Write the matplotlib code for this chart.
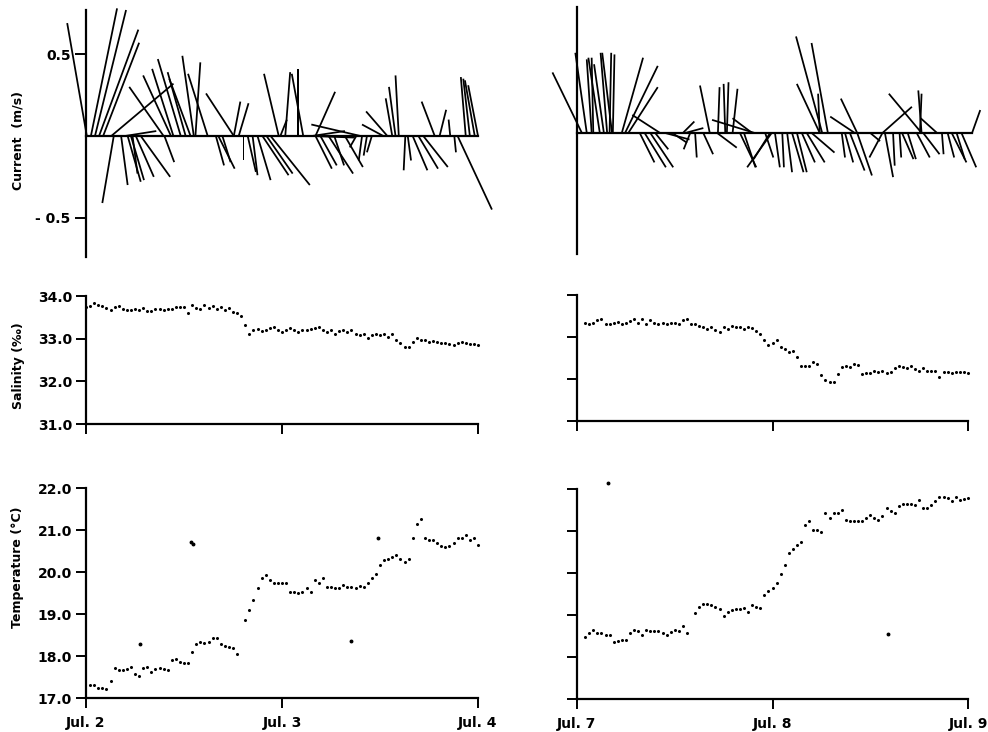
import numpy as np
import matplotlib
matplotlib.use("Agg")
import matplotlib.pyplot as plt
from matplotlib.ticker import FormatStrFormatter

plt.rcParams['font.family'] = ['DejaVu Sans']
plt.rcParams['font.weight'] = 'bold'
plt.rcParams['axes.linewidth'] = 1.6

# ---------------- data (hours after midnight of first day) ----------------
# current sticks, Jul 2 - Jul 4 : time, east comp, north comp (m/s)
cur_a_hr = [0.1, 0.6, 1.1, 1.6, 2.1, 3.1, 3.4, 4.3, 4.8, 5.1, 5.5, 5.7, 6.1, 6.7,
            9.5, 9.6, 10.4, 10.7, 11.6, 12.2, 12.8, 13.2, 13.4, 14.9, 15.9, 16.2,
            16.7, 18.1, 18.1, 18.7, 19.3, 19.8, 20.4, 21.0, 21.6, 22.1, 22.6, 23.6,
            23.8, 24.4, 26.0, 26.6, 27.5, 27.7, 28.1, 28.1, 28.7, 29.7, 30.4, 31.7,
            33.1, 33.6, 33.8, 34.4, 35.0, 36.4, 36.9, 37.5, 37.9, 38.3, 39.1, 39.4,
            40.0, 40.7, 41.3, 42.7, 43.3, 44.6, 45.1, 45.5, 46.5, 47.0, 47.6, 48.0]
cur_a_u = [-0.12, 0.16, 0.19, 0.24, 0.22, 0.38, -0.07, 0.04, 0.19, 0.08, 0.08, 0.03, 0.11, 0.18,
           -0.21, 0.06, -0.17, -0.13, -0.14, -0.11, -0.13, -0.07, 0.03, -0.12, 0.05, 0.10,
           0.05, -0.17, 0.04, 0.06, 0.00, 0.05, 0.03, 0.08, 0.16, 0.16, 0.24, -0.09,
           0.04, 0.03, 0.00, -0.07, 0.27, 0.20, 0.12, 0.10, 0.10, 0.15, 0.06, 0.11,
           -0.04, -0.30, -0.02, -0.02, -0.03, -0.13, -0.13, -0.04, -0.04, -0.02, -0.01, 0.02,
           0.09, 0.12, 0.15, -0.08, 0.04, -0.01, 0.01, 0.21, -0.03, -0.04, -0.06, -0.06]
cur_a_v = [0.69, 0.78, 0.77, 0.65, 0.57, 0.32, -0.41, -0.30, 0.03, -0.28, -0.27, -0.23, -0.25, -0.25,
           0.30, -0.16, 0.37, 0.41, 0.47, 0.39, 0.35, 0.49, 0.45, 0.38, -0.18, -0.20,
           -0.16, 0.26, 0.21, 0.20, -0.15, -0.22, -0.24, -0.27, -0.24, -0.23, -0.30, 0.38,
           0.10, 0.39, 0.41, 0.38, -0.01, 0.03, 0.27, -0.20, -0.18, -0.23, -0.18, -0.19,
           -0.07, 0.07, -0.15, -0.12, -0.10, 0.07, 0.15, 0.23, 0.30, 0.37, -0.21, -0.15,
           -0.21, -0.20, -0.19, 0.21, 0.16, 0.10, -0.10, -0.45, 0.36, 0.35, 0.34, 0.31]

# current sticks, Jul 7 - Jul 9
cur_b_hr = [0.6, 1.2, 1.8, 2.0, 2.8, 3.3, 3.7, 4.0, 4.3, 4.4, 5.5, 5.9, 6.3, 7.7, 8.3,
            9.0, 9.6, 10.2, 10.8, 11.7, 13.0, 13.3, 13.9, 14.5, 15.5, 16.3, 17.2, 17.3,
            18.2, 18.4, 19.1, 20.0, 20.5, 21.5, 21.8, 23.1, 23.7, 23.9, 24.3, 25.2, 25.8,
            26.4, 27.0, 27.6, 28.2, 28.8, 29.8, 29.8, 30.1, 30.8, 32.5, 32.9, 33.5, 34.1,
            34.4, 34.4, 36.0, 37.5, 37.5, 37.8, 38.8, 39.6, 39.9, 40.6, 41.7, 42.1, 42.3,
            42.3, 42.5, 44.2, 44.8, 45.5, 46.0, 46.6, 47.2, 48.5]
cur_b_u = [-0.18, -0.07, -0.03, -0.01, -0.07, -0.06, -0.04, 0.01, -0.06, 0.01, 0.13, 0.20, 0.18, 0.09, 0.13,
           0.14, 0.08, -0.17, 0.15, 0.09, 0.07, 0.11, -0.04, 0.01, 0.06, -0.06, 0.12, 0.01,
           -0.01, 0.01, 0.03, 0.10, 0.07, -0.12, -0.26, 0.05, -0.10, -0.15, 0.03, 0.01, 0.03,
           0.07, 0.06, 0.08, 0.11, 0.14, -0.14, -0.01, -0.16, -0.10, 0.02, 0.05, 0.09, -0.15,
           -0.10, 0.09, 0.06, 0.18, -0.08, 0.05, 0.01, 0.01, 0.07, 0.05, 0.08, 0.01, -0.20,
           -0.02, 0.10, -0.10, 0.01, 0.04, 0.09, 0.05, 0.09, 0.05]
cur_b_v = [0.37, 0.49, 0.45, 0.46, 0.46, 0.42, 0.49, 0.49, 0.49, 0.48, 0.46, 0.41, 0.28, -0.18, -0.21,
           -0.21, -0.10, 0.11, -0.04, -0.06, 0.07, 0.03, -0.10, -0.15, -0.13, 0.29, -0.09, 0.28,
           0.30, 0.31, 0.27, -0.21, -0.21, 0.09, 0.08, -0.15, -0.16, -0.21, -0.21, -0.21, -0.24,
           -0.24, -0.24, -0.18, -0.18, -0.12, 0.30, 0.24, 0.59, 0.55, -0.15, -0.18, -0.23, 0.10,
           0.21, -0.26, -0.05, 0.16, -0.15, -0.27, -0.20, -0.15, -0.16, -0.16, -0.15, 0.24, 0.24,
           0.26, -0.13, 0.09, -0.13, -0.15, -0.18, -0.16, -0.21, 0.14]

# salinity (per mil), half-hourly
sal_a_start = 0.0
sal_a = [33.75, 33.77, 33.83, 33.80, 33.77, 33.73, 33.67, 33.75, 33.77, 33.69, 33.67, 33.67,
         33.69, 33.67, 33.71, 33.66, 33.66, 33.69, 33.69, 33.67, 33.70, 33.69, 33.75, 33.75,
         33.75, 33.60, 33.79, 33.71, 33.69, 33.79, 33.71, 33.77, 33.69, 33.75, 33.67, 33.71,
         33.63, 33.60, 33.52, 33.32, 33.12, 33.20, 33.22, 33.19, 33.20, 33.24, 33.28, 33.20,
         33.16, 33.20, 33.24, 33.20, 33.16, 33.20, 33.20, 33.22, 33.24, 33.28, 33.20, 33.16,
         33.20, 33.12, 33.19, 33.20, 33.16, 33.20, 33.12, 33.09, 33.12, 33.01, 33.09, 33.11,
         33.09, 33.11, 33.05, 33.12, 32.97, 32.91, 32.81, 32.81, 32.93, 33.01, 32.97, 32.97,
         32.93, 32.95, 32.93, 32.91, 32.89, 32.88, 32.85, 32.91, 32.93, 32.91, 32.87, 32.88,
         32.85]
sal_b_start = 1.0
sal_b = [33.34, 33.32, 33.34, 33.40, 33.42, 33.32, 33.30, 33.34, 33.36, 33.32, 33.34, 33.38,
         33.42, 33.34, 33.42, 33.32, 33.40, 33.34, 33.32, 33.34, 33.32, 33.34, 33.34, 33.32,
         33.40, 33.42, 33.32, 33.32, 33.26, 33.24, 33.20, 33.24, 33.16, 33.12, 33.24, 33.20,
         33.26, 33.24, 33.24, 33.20, 33.24, 33.22, 33.14, 33.06, 32.94, 32.80, 32.86, 32.92,
         32.76, 32.72, 32.64, 32.66, 32.52, 32.32, 32.32, 32.32, 32.40, 32.36, 32.10, 31.98,
         31.92, 31.94, 32.12, 32.28, 32.32, 32.28, 32.36, 32.34, 32.12, 32.14, 32.14, 32.20,
         32.16, 32.18, 32.14, 32.16, 32.26, 32.30, 32.28, 32.26, 32.30, 32.24, 32.18, 32.26,
         32.20, 32.18, 32.18, 32.05, 32.16, 32.16, 32.14, 32.16, 32.16, 32.16, 32.15]

# temperature (deg C), half-hourly, nan = no reading
tmp_a_start = 0.5
tmp_a = [17.32, 17.32, 17.24, 17.24, 17.22, 17.40, 17.72, 17.66, 17.66, 17.70, 17.75, 17.58,
         17.53, 17.72, 17.74, 17.61, 17.68, 17.71, 17.69, 17.66, 17.90, 17.93, 17.85, 17.83,
         17.83, 18.10, 18.28, 18.34, 18.32, 18.34, 18.42, 18.42, 18.28, 18.23, 18.22, 18.20,
         18.05, np.nan, 18.86, 19.10, 19.33, 19.63, 19.85, 19.93, 19.81, 19.75, 19.73, 19.73,
         19.75, 19.53, 19.53, 19.50, 19.52, 19.62, 19.53, 19.82, 19.75, 19.85, 19.65, 19.65,
         19.62, 19.61, 19.69, 19.65, 19.65, 19.62, 19.67, 19.65, 19.75, 19.85, 19.95, 20.16,
         20.28, 20.30, 20.35, 20.40, 20.32, 20.24, 20.30, 20.82, 21.15, 21.27, 20.80, 20.77,
         20.77, 20.70, 20.62, 20.60, 20.62, 20.68, 20.80, 20.82, 20.88, 20.77, 20.82, 20.64]
tmp_b_start = 1.0
tmp_b = [18.48, 18.57, 18.65, 18.58, 18.56, 18.53, 18.53, 18.35, 18.38, 18.41, 18.40, 18.56,
         18.65, 18.62, 18.53, 18.65, 18.63, 18.62, 18.61, 18.58, 18.53, 18.60, 18.65, 18.62,
         18.75, 18.56, np.nan, 19.05, 19.19, 19.27, 19.27, 19.25, 19.20, 19.14, 18.97, 19.06,
         19.13, 19.14, 19.14, 19.17, 19.06, 19.25, 19.20, 19.17, 19.48, 19.56, 19.65, 19.76,
         19.98, 20.20, 20.48, 20.56, 20.67, 20.75, 21.15, 21.23, 21.03, 21.03, 20.97, 21.43,
         21.31, 21.43, 21.43, 21.51, 21.27, 21.25, 21.25, 21.24, 21.23, 21.31, 21.37, 21.30,
         21.27, 21.35, 21.55, 21.47, 21.44, 21.60, 21.65, 21.65, 21.65, 21.63, 21.75, 21.55,
         21.55, 21.62, 21.71, 21.81, 21.81, 21.79, 21.71, 21.81, 21.75, 21.76, 21.79]

# isolated spikes in the temperature records
spk_a_hr = [6.6, 12.8, 13.1, 32.4, 35.8]
spk_a = [18.28, 20.72, 20.66, 18.36, 20.82]
spk_b_hr = [3.8, 38.2]
spk_b = [22.15, 18.55]

day_ticks = [0, 24, 48]
days_a = ["Jul. 2", "Jul. 3", "Jul. 4"]
days_b = ["Jul. 7", "Jul. 8", "Jul. 9"]


def series_time(start, vals):
    return start + 0.5 * np.arange(len(vals))


def box(x0, x1, ytop, ybot):
    # pixel box of the 988x732 page -> figure fraction
    return [x0 / 988.0, 1 - ybot / 732.0, (x1 - x0) / 988.0, (ybot - ytop) / 732.0]


fig = plt.figure(figsize=(9.88, 7.32), dpi=100)
fig.patch.set_facecolor('white')

ax_ca = fig.add_axes(box(86, 478, 10, 257))
ax_cb = fig.add_axes(box(577, 968, 7, 254))
ax_sa = fig.add_axes(box(86, 478, 296, 424))
ax_sb = fig.add_axes(box(577, 968, 295, 421))
ax_ta = fig.add_axes(box(86, 478, 488, 698))
ax_tb = fig.add_axes(box(577, 968, 489, 699))

for ax in [ax_ca, ax_cb, ax_sa, ax_sb, ax_ta, ax_tb]:
    ax.spines['top'].set_visible(False)
    ax.spines['right'].set_visible(False)
    ax.set_xlim(0, 48)
    ax.tick_params(direction='out', length=7, width=1.4, labelsize=10, pad=3)
    ax.patch.set_alpha(0)

## Current stick plots
for ax, hr, u, v in [(ax_ca, cur_a_hr, cur_a_u, cur_a_v), (ax_cb, cur_b_hr, cur_b_u, cur_b_v)]:
    hr = np.array(hr)
    ax.plot([0, hr.max()], [0, 0], color='k', lw=1.6, clip_on=False)
    ax.quiver(hr, np.zeros(len(hr)), u, v, angles='uv', scale_units='y', scale=1,
              pivot='tail', width=0.0045, headwidth=0, headlength=0, headaxislength=0,
              minlength=0, color='k', clip_on=False)
    ax.set_ylim(-0.74, 0.77)
    ax.spines['bottom'].set_visible(False)
    ax.set_xticks([])

ax_ca.set_yticks([0.5, -0.5])
ax_ca.set_yticklabels(["0.5", "- 0.5"])
ax_ca.tick_params(axis='y', length=8)
ax_cb.set_yticks([])

## Salinity
for ax, start, vals in [(ax_sa, sal_a_start, sal_a), (ax_sb, sal_b_start, sal_b)]:
    ax.plot(series_time(start, vals), vals, ls='none', marker='o', ms=1.2, color='k', clip_on=False)
    ax.set_ylim(31, 34)
    ax.set_yticks([31, 32, 33, 34])
    ax.yaxis.set_major_formatter(FormatStrFormatter('%.1f'))
    ax.set_xticks(day_ticks)
    ax.set_xticklabels([])
ax_sb.set_yticklabels([])

## Temperature
for ax, start, vals, sh, sv, labs in [(ax_ta, tmp_a_start, tmp_a, spk_a_hr, spk_a, days_a),
                                      (ax_tb, tmp_b_start, tmp_b, spk_b_hr, spk_b, days_b)]:
    ax.plot(series_time(start, vals), vals, ls='none', marker='o', ms=1.2, color='k', clip_on=False)
    ax.plot(sh, sv, ls='none', marker='o', ms=1.8, color='k', clip_on=False)
    ax.set_ylim(17, 22)
    ax.set_yticks([17, 18, 19, 20, 21, 22])
    ax.yaxis.set_major_formatter(FormatStrFormatter('%.1f'))
    ax.set_xticks(day_ticks)
    ax.set_xticklabels(labs, fontsize=10, fontweight='bold')
    ax.tick_params(axis='x', pad=6)
ax_tb.set_yticklabels([])

## axis titles
fig.text(0.018, 1 - 140 / 732.0, "Current  (m/s)", rotation=90, ha='center', va='center',
         fontsize=9, fontweight='bold')
fig.text(0.019, 1 - 366 / 732.0, "Salinity (\u2030)", rotation=90, ha='center', va='center',
         fontsize=9, fontweight='bold')
fig.text(0.018, 1 - 567 / 732.0, "Temperature (\u00b0C)", rotation=90, ha='center', va='center',
         fontsize=9, fontweight='bold')

plt.savefig("out.png", dpi=100, facecolor='w')
